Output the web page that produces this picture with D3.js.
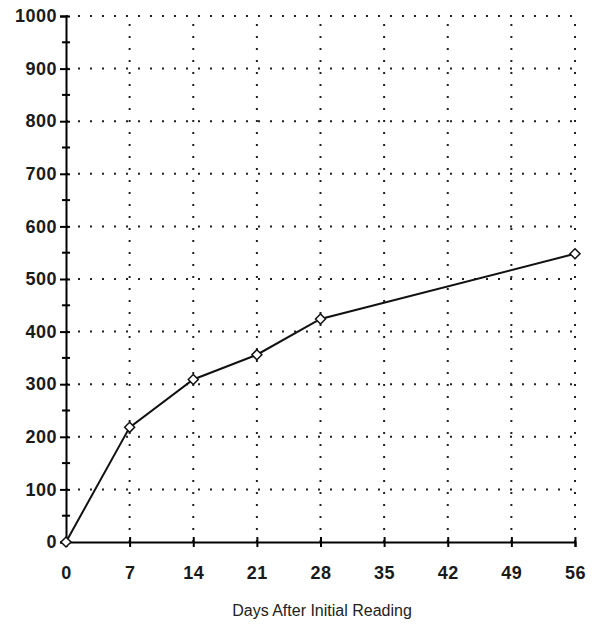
<!DOCTYPE html>
<html>
<head>
<meta charset="utf-8">
<script src="https://cdn.jsdelivr.net/npm/d3@7"></script>
<style>
  body { margin: 0; background: #fff; }
  svg { display: block; }
</style>
</head>
<body>
<svg id="chart" width="598" height="625"></svg>
<script>
const days = [0, 7, 14, 21, 28, 56];
const readings = [0, 218, 309, 356, 424, 548];
const xTicks = [0, 7, 14, 21, 28, 35, 42, 49, 56];
const yTicks = [0, 100, 200, 300, 400, 500, 600, 700, 800, 900, 1000];
const yMinorTicks = [50, 150, 250, 350, 450, 550, 650, 750, 850, 950];
const xTitle = "Days After Initial Reading";

const svg = d3.select("#chart");
const margin = {left: 66, top: 16, right: 23, bottom: 83};
const W = 598, H = 625;
const FONT = "Liberation Sans, Arial, sans-serif";

const x = d3.scaleLinear().domain([0, 56]).range([margin.left, W - margin.right]);
const y = d3.scaleLinear().domain([0, 1000]).range([H - margin.bottom, margin.top]);

// dotted grid
const grid = svg.append("g").attr("stroke", "#222").attr("stroke-width", 2)
  .attr("stroke-dasharray", "2,10").attr("stroke-linecap", "butt");
grid.selectAll(".gv").data(xTicks.slice(1)).enter().append("line")
  .attr("x1", d => x(d)).attr("x2", d => x(d))
  .attr("y1", y(0)).attr("y2", y(1000));
grid.selectAll(".gh").data(yTicks.slice(1)).enter().append("line")
  .attr("y1", d => y(d)).attr("y2", d => y(d))
  .attr("x1", x(0)).attr("x2", x(56));

// axes
const yAxis = svg.append("g").attr("transform", `translate(${x(0)},0)`)
  .call(d3.axisLeft(y).tickValues(yTicks).tickFormat(d3.format("d")).tickSize(6).tickPadding(3));
yAxis.select(".domain").attr("stroke", "#000").attr("stroke-width", 2);
yAxis.selectAll(".tick line").attr("x2", 4).attr("x1", -6).attr("stroke-width", 2);
yAxis.selectAll(".tick text")
  .attr("font-family", FONT).attr("letter-spacing", 0.5)
  .attr("font-size", 18).attr("font-weight", "bold").attr("fill", "#1a1a1a");
yAxis.selectAll(".minor").data(yMinorTicks).enter().append("line")
  .attr("x1", -4).attr("x2", 4)
  .attr("y1", d => y(d)).attr("y2", d => y(d))
  .attr("stroke", "#000").attr("stroke-width", 2);

const xAxis = svg.append("g").attr("transform", `translate(0,${y(0)})`)
  .call(d3.axisBottom(x).tickValues(xTicks).tickSize(5).tickPadding(19));
xAxis.select(".domain").attr("stroke", "#000").attr("stroke-width", 2);
xAxis.selectAll(".tick line").attr("y1", -5).attr("y2", 5).attr("stroke-width", 2);
xAxis.selectAll(".tick text")
  .attr("font-family", FONT).attr("letter-spacing", 0.5)
  .attr("font-size", 18).attr("font-weight", "bold").attr("fill", "#1a1a1a");

svg.append("text")
  .attr("x", 322).attr("y", 616)
  .attr("text-anchor", "middle")
  .attr("font-family", FONT)
  .attr("font-size", 16).attr("fill", "#222")
  .text(xTitle);

// data line
const pts = days.map((d, i) => [d, readings[i]]);
svg.append("path")
  .datum(pts)
  .attr("fill", "none").attr("stroke", "#111").attr("stroke-width", 2)
  .attr("d", d3.line().x(d => x(d[0])).y(d => y(d[1])));

svg.selectAll(".mk").data(pts).enter().append("path")
  .attr("transform", d => `translate(${x(d[0])},${y(d[1])})`)
  .attr("d", "M0,-5L5,0L0,5L-5,0Z")
  .attr("fill", "#fff").attr("stroke", "#111").attr("stroke-width", 1.5);
</script>
</body>
</html>
